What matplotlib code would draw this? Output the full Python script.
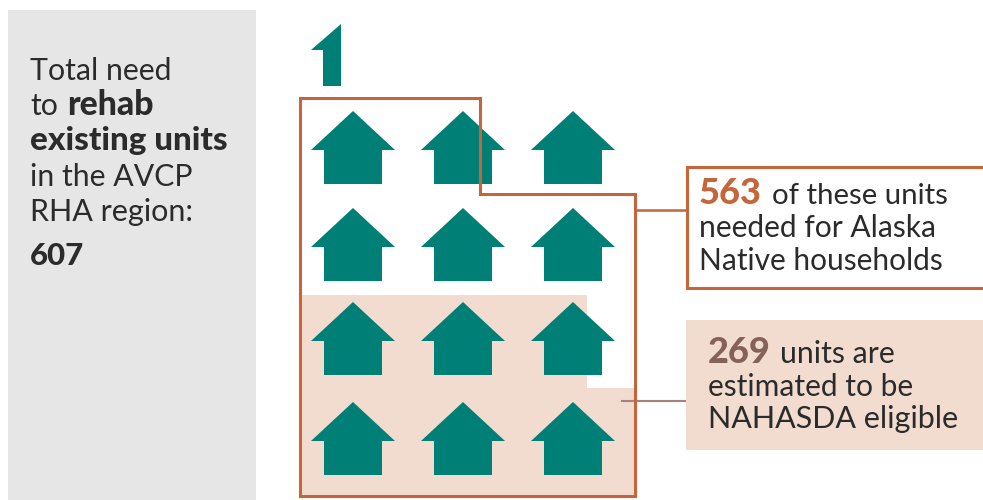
import matplotlib
matplotlib.use('Agg')
import matplotlib.pyplot as plt
from matplotlib.patches import Rectangle, Polygon

plt.rcParams['font.family'] = ['Lato', 'DejaVu Sans']

TEAL = '#007f76'
RUST = '#c4653a'
TINT = '#f2dcd0'
GREY = '#e6e6e6'
DARK = '#2b2b2b'
NUM_BROWN = '#84625a'
LINE_BROWN = '#a5837a'

region_label = 'AVCP'
total_need = 607
native_units = 563
eligible_units = 269
house_cols = [353, 463, 573]
house_rows = [148, 245, 339, 439]

# pixel coordinates, y pointing down
fig = plt.figure(figsize=(9.83, 5.0), dpi=100)
ax = fig.add_axes([0, 0, 1, 1])
ax.set_xlim(0, 983)
ax.set_ylim(500, 0)
ax.axis('off')


def house(cx, cy):
    pts = [(cx, cy - 37), (cx + 42, cy + 2), (cx + 29, cy + 2), (cx + 29, cy + 36),
           (cx - 29, cy + 36), (cx - 29, cy + 2), (cx - 42, cy + 2)]
    ax.add_patch(Polygon(pts, closed=True, fc=TEAL, ec='none', zorder=3))


def label(x, y, s, size=21.8, color=DARK, weight='normal'):
    ax.text(x, y, s, fontsize=size, color=color, fontweight=weight, va='baseline', zorder=5)


ax.add_patch(Rectangle((8, 10), 248, 490, fc=GREY, ec='none'))

# tinted block behind the lower rows
tint = [(300, 295), (587, 295), (587, 388), (635, 388), (635, 496), (300, 496)]
ax.add_patch(Polygon(tint, closed=True, fc=TINT, ec='none', zorder=1))

# single house cut down to its right half
ax.add_patch(Polygon([(341, 24), (341, 86), (323, 86), (323, 50), (311, 50)],
                     closed=True, fc=TEAL, ec='none', zorder=3))

for cy in house_rows:
    for cx in house_cols:
        house(cx, cy)

outline = [(300, 98), (480, 98), (480, 194), (635, 194), (635, 496), (300, 496)]
ax.add_patch(Polygon(outline, closed=True, fc='none', ec=RUST, lw=2.2, zorder=4))

ax.plot([635, 687], [210, 210], color=RUST, lw=1.8, zorder=2)
ax.plot([622, 686], [401, 401], color=LINE_BROWN, lw=1.5, zorder=2)

ax.add_patch(Rectangle((687, 167), 300, 121, fc='white', ec=RUST, lw=2.2, zorder=2))
ax.add_patch(Rectangle((686, 320), 297, 130, fc=TINT, ec='none', zorder=2))

# side panel
label(30, 80, 'Total need')
label(30, 115, 'to')
label(67, 115, 'rehab', size=24.4, weight='black')
label(30, 150, 'existing units', size=23.9, weight='black')
label(30, 186, 'in the ' + region_label)
label(30, 221, 'RHA region:', size=22)
label(30, 265, str(total_need), size=22.5, weight='black')

# right-hand callouts
label(699, 204, str(native_units), size=26, color=RUST, weight='black')
label(772, 204, 'of these units', size=21.2)
label(699, 237, 'needed for Alaska', size=21.6)
label(699, 270, 'Native households', size=21.5)

label(708, 363, str(eligible_units), size=26, color=NUM_BROWN, weight='black')
label(780, 363, 'units are')
label(708, 396, 'estimated to be', size=21.6)
label(708, 428, 'NAHASDA eligible', size=22)

fig.savefig('out.png', dpi=100, facecolor='white')
